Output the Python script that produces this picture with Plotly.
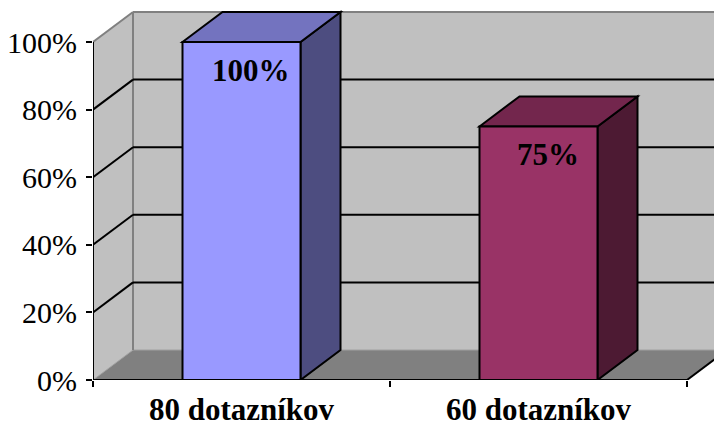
import plotly.graph_objects as go

# ---- data ----
categories = ["80 dotazníkov", "60 dotazníkov"]
values = [1.00, 0.75]
value_labels = ["100%", "75%"]
y_ticks = [0, 0.2, 0.4, 0.6, 0.8, 1.0]
y_tick_labels = ["0%", "20%", "40%", "60%", "80%", "100%"]

front_colors = ["#9999ff", "#993366"]
top_colors = ["#7373bf", "#73264d"]
side_colors = ["#4d4d80", "#4d1a33"]

# ---- geometry (axis units); page body adds an 8px margin ----
W, H = 714, 419
ML, MR, MT, MB = 85, 0, 2, 47
px_x = 297.0          # pixels per x unit
px_y = 338.0          # pixels per y unit
xmax = (W - ML - MR) / px_x
ymax = (H - MT - MB) / px_y
dx = 40 / px_x        # depth offset
dy = 30 / px_y
bw = 118 / px_x
centers = [i + 0.5 for i in range(len(categories))]
FONT = "Liberation Serif, Times New Roman, serif"

shapes = []
# back wall
shapes.append(dict(type="rect", x0=dx, x1=xmax + 0.1, y0=dy, y1=1 + dy,
                   fillcolor="#c0c0c0", line=dict(width=0), layer="below"))
# left wall
shapes.append(dict(type="path", path=f"M0,0 L0,1 L{dx},{1+dy} L{dx},{dy} Z",
                   fillcolor="#c0c0c0", line=dict(width=0), layer="below"))
# floor
n = len(categories)
shapes.append(dict(type="path", path=f"M0,0 L{n},0 L{n+dx},{dy} L{xmax+0.1},{dy} L{dx},{dy} Z",
                   fillcolor="#808080", line=dict(width=0), layer="below"))
# floor edges
shapes.append(dict(type="line", x0=0, y0=0, x1=dx, y1=dy, line=dict(color="#a0a0a0", width=1), layer="below"))
shapes.append(dict(type="line", x0=dx, y0=dy, x1=xmax + 0.1, y1=dy, line=dict(color="#a0a0a0", width=1), layer="below"))
shapes.append(dict(type="line", x0=n, y0=0, x1=n + dx, y1=dy, line=dict(color="black", width=2), layer="below"))
# wall edges (gray)
shapes.append(dict(type="line", x0=dx, y0=dy, x1=dx, y1=1 + dy, line=dict(color="#808080", width=2), layer="below"))
shapes.append(dict(type="line", x0=dx, y0=1 + dy, x1=xmax + 0.1, y1=1 + dy, line=dict(color="#808080", width=2), layer="below"))
shapes.append(dict(type="line", x0=0, y0=1, x1=dx, y1=1 + dy, line=dict(color="#808080", width=2), layer="below"))
# gridlines
for t in y_ticks[1:-1]:
    shapes.append(dict(type="line", x0=dx, y0=t + dy, x1=xmax + 0.1, y1=t + dy,
                       line=dict(color="black", width=2), layer="below"))
    shapes.append(dict(type="line", x0=0, y0=t, x1=dx, y1=t + dy,
                       line=dict(color="black", width=2), layer="below"))
# bar tops and sides
for c, v, tc, sc in zip(centers, values, top_colors, side_colors):
    l, r = c - bw / 2, c + bw / 2
    shapes.append(dict(type="path", path=f"M{r},0 L{r+dx},{dy} L{r+dx},{v+dy} L{r},{v} Z",
                       fillcolor=sc, line=dict(color="black", width=2), layer="below"))
    shapes.append(dict(type="path", path=f"M{l},{v} L{l+dx},{v+dy} L{r+dx},{v+dy} L{r},{v} Z",
                       fillcolor=tc, line=dict(color="black", width=2), layer="below"))
# axis lines
shapes.append(dict(type="line", x0=0, y0=0, x1=n, y1=0, line=dict(color="black", width=2)))
shapes.append(dict(type="line", x0=0, y0=0, x1=0, y1=1, line=dict(color="black", width=2)))

fig = go.Figure()
fig.add_trace(go.Bar(x=centers, y=values, width=bw,
                     marker=dict(color=front_colors, line=dict(color="black", width=2)),
                     hoverinfo="skip"))

annotations = []
for c, v, lab in zip(centers, values, value_labels):
    annotations.append(dict(x=c, y=v, text=f"<b>{lab}</b>", showarrow=False,
                            xshift=9, yshift=-28, font=dict(family=FONT, size=31, color="black")))

fig.update_layout(
    width=W, height=H,
    margin=dict(l=ML, r=MR, t=MT, b=MB),
    paper_bgcolor="white", plot_bgcolor="rgba(0,0,0,0)",
    showlegend=False,
    shapes=shapes, annotations=annotations,
    xaxis=dict(range=[0, xmax], showgrid=False, zeroline=False, showline=False,
               automargin=False, ticklabelstandoff=8,
               tickvals=centers, ticktext=[f"<b>{c}</b>" for c in categories],
               ticks="", tickfont=dict(family=FONT, size=31, color="black"),
               minor=dict(tickvals=list(range(n + 1)), ticks="outside", ticklen=6,
                          tickwidth=2, tickcolor="black", showgrid=False)),
    yaxis=dict(range=[0, ymax], showgrid=False, zeroline=False, showline=False,
               automargin=False, ticklabelstandoff=3,
               tickvals=y_ticks, ticktext=y_tick_labels, ticks="outside", ticklen=6,
               tickwidth=2, tickcolor="black",
               tickfont=dict(family=FONT, size=30, color="black")),
)
fig.write_html("out.html")
